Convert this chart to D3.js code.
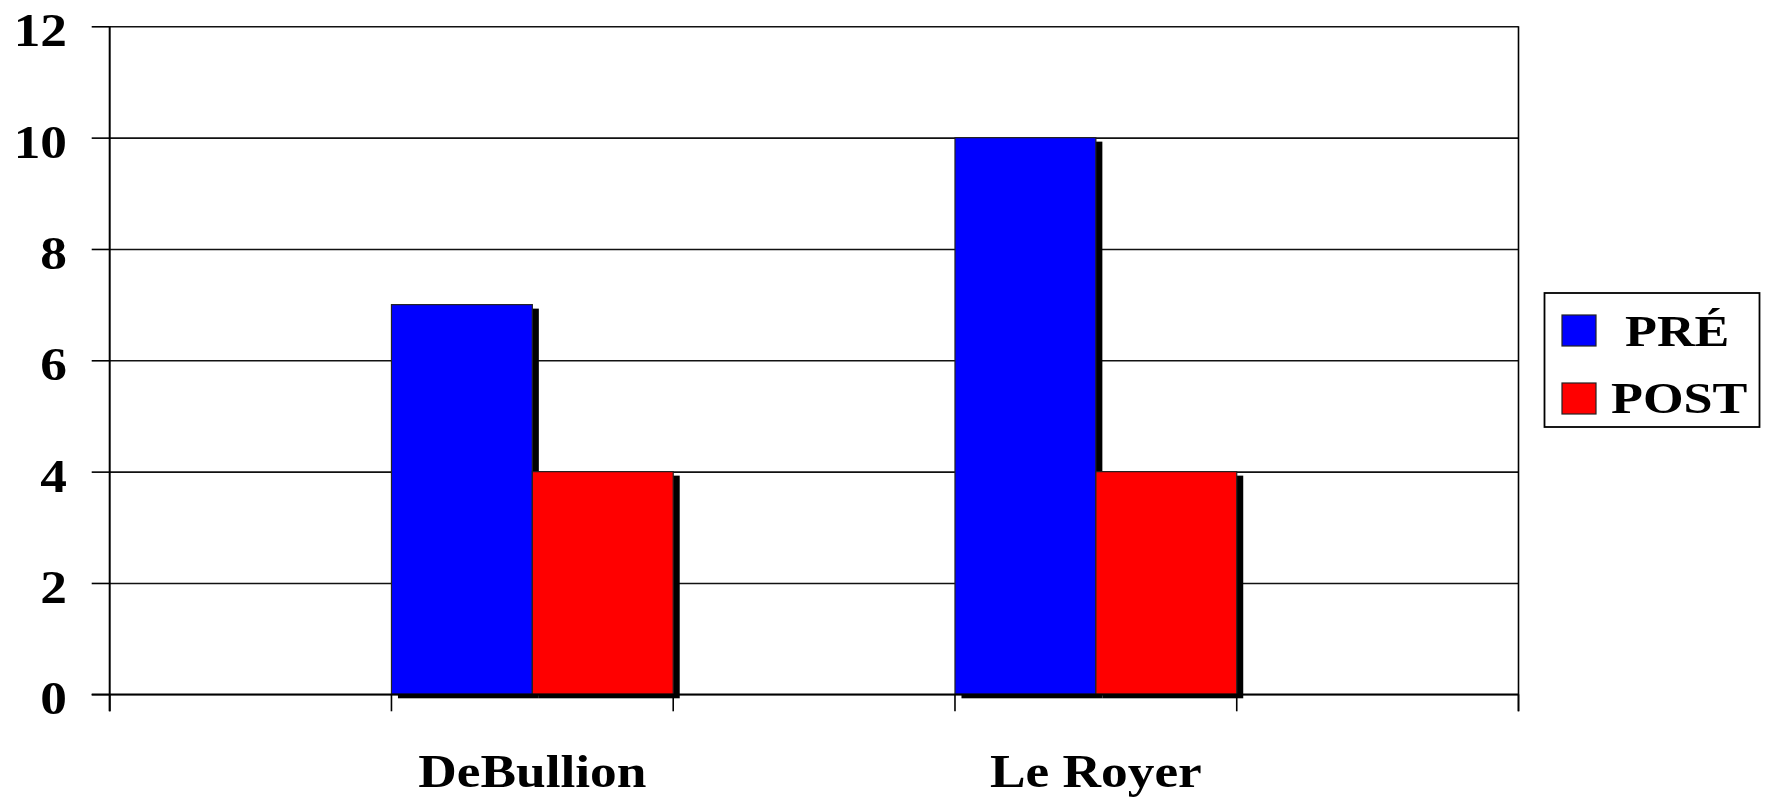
<!DOCTYPE html>
<html>
<head>
<meta charset="utf-8">
<script src="https://cdn.jsdelivr.net/npm/d3@7"></script>
<style>
  html, body { margin: 0; padding: 0; background: #fff; }
  svg { display: block; }
  text { font-family: "Liberation Serif", "Times New Roman", serif; font-weight: bold; fill: #000; }
</style>
</head>
<body>
<svg id="chart" width="1773" height="798"></svg>
<script>
// ---- data ----
const categories = ["", "DeBullion", "", "Le Royer", ""];
const seriesNames = ["PRÉ", "POST"];
const preValues = [null, 7, null, 10, null];
const postValues = [null, 4, null, 4, null];
const yTicks = [0, 2, 4, 6, 8, 10, 12];
const seriesColors = ["#0000ff", "#ff0000"];

// ---- layout ----
const W = 1773, H = 798;
const plot = { left: 109.7, right: 1518.5, top: 26.3, bottom: 694.3 };
const textScaleX = 1.16;
const fontSize = 46;

const svg = d3.select("#chart");

const x = d3.scaleBand().domain(d3.range(categories.length))
  .range([plot.left, plot.right]).padding(0);
const xs = d3.scaleBand().domain(seriesNames).range([0, x.bandwidth()]).padding(0);
const y = d3.scaleLinear().domain([0, 12]).range([plot.bottom, plot.top]);

// gridlines
const grid = svg.append("g").attr("transform", `translate(${plot.left},0)`)
  .call(d3.axisLeft(y).tickValues(yTicks).tickSize(-(plot.right - plot.left)).tickFormat(""));
grid.select(".domain").remove();
grid.selectAll(".tick line").attr("stroke", "#111").attr("stroke-width", 1.6);

// y-axis ticks (outer)
const yAx = svg.append("g").attr("transform", `translate(${plot.left},0)`)
  .call(d3.axisLeft(y).tickValues(yTicks).tickSize(18).tickFormat(""));
yAx.select(".domain").remove();
yAx.selectAll(".tick line").attr("stroke", "#000").attr("stroke-width", 1.6);

// bars
const table = categories.map((c, i) => ({ i, c, values: [preValues[i], postValues[i]] }));
const groups = svg.append("g").selectAll("g").data(table).join("g")
  .attr("transform", d => `translate(${x(d.i)},0)`);
const cells = groups.selectAll("g").data(d => d.values.map((v, k) => ({ v, k })).filter(e => e.v != null))
  .join("g");
// shadows
cells.append("rect")
  .attr("x", e => xs(seriesNames[e.k]) + 6.5)
  .attr("y", e => y(e.v) + 4)
  .attr("width", xs.bandwidth())
  .attr("height", e => y(0) - y(e.v))
  .attr("fill", "#000");
// bar faces
cells.append("rect")
  .attr("x", e => xs(seriesNames[e.k]))
  .attr("y", e => y(e.v))
  .attr("width", xs.bandwidth())
  .attr("height", e => y(0) - y(e.v))
  .attr("fill", e => seriesColors[e.k])
  .attr("stroke", "#222")
  .attr("stroke-width", 1.2);

// redraw zero line on top
svg.append("line")
  .attr("x1", plot.left - 18).attr("x2", plot.right)
  .attr("y1", y(0)).attr("y2", y(0))
  .attr("stroke", "#000").attr("stroke-width", 1.8);

// left axis & right border
svg.append("line").attr("x1", plot.left).attr("x2", plot.left)
  .attr("y1", y(12)).attr("y2", y(0) + 17)
  .attr("stroke", "#000").attr("stroke-width", 2);
svg.append("line").attr("x1", plot.right).attr("x2", plot.right)
  .attr("y1", y(12)).attr("y2", y(0) + 17)
  .attr("stroke", "#000").attr("stroke-width", 1.6);

// x ticks at band boundaries
const xEdges = d3.range(categories.length).map(i => x(i)).concat([x.range()[1]]);
svg.append("g").selectAll("line").data(xEdges).join("line")
  .attr("x1", d => d).attr("x2", d => d)
  .attr("y1", y(0)).attr("y2", y(0) + 17)
  .attr("stroke", "#000").attr("stroke-width", 1.6);

// y labels
svg.append("g").selectAll("text").data(yTicks).join("text")
  .attr("transform", d => `translate(67,${y(d) + 20}) scale(${textScaleX},1)`)
  .attr("text-anchor", "end")
  .attr("font-size", fontSize)
  .text(d => d3.format("d")(d));

// x labels
svg.append("g").selectAll("text").data(table.filter(d => d.c !== "")).join("text")
  .attr("transform", d => `translate(${x(d.i) + x.bandwidth() / 2},787) scale(${textScaleX},1)`)
  .attr("text-anchor", "middle")
  .attr("font-size", fontSize)
  .text(d => d.c);

// legend
const legend = svg.append("g");
legend.append("rect")
  .attr("x", 1544.5).attr("y", 293).attr("width", 215).attr("height", 134)
  .attr("fill", "#fff").attr("stroke", "#000").attr("stroke-width", 1.8);
const legendRows = [
  { name: seriesNames[0], color: seriesColors[0], sy: 315, tx: 1625, ty: 346 },
  { name: seriesNames[1], color: seriesColors[1], sy: 383, tx: 1611, ty: 413 }
];
legend.selectAll("rect.sw").data(legendRows).join("rect").attr("class", "sw")
  .attr("x", 1562).attr("y", d => d.sy).attr("width", 34).attr("height", 31)
  .attr("fill", d => d.color).attr("stroke", "#222").attr("stroke-width", 1.2);
legend.selectAll("text").data(legendRows).join("text")
  .attr("transform", d => `translate(${d.tx},${d.ty}) scale(${textScaleX},1)`)
  .attr("font-size", 45)
  .text(d => d.name);
</script>
</body>
</html>
